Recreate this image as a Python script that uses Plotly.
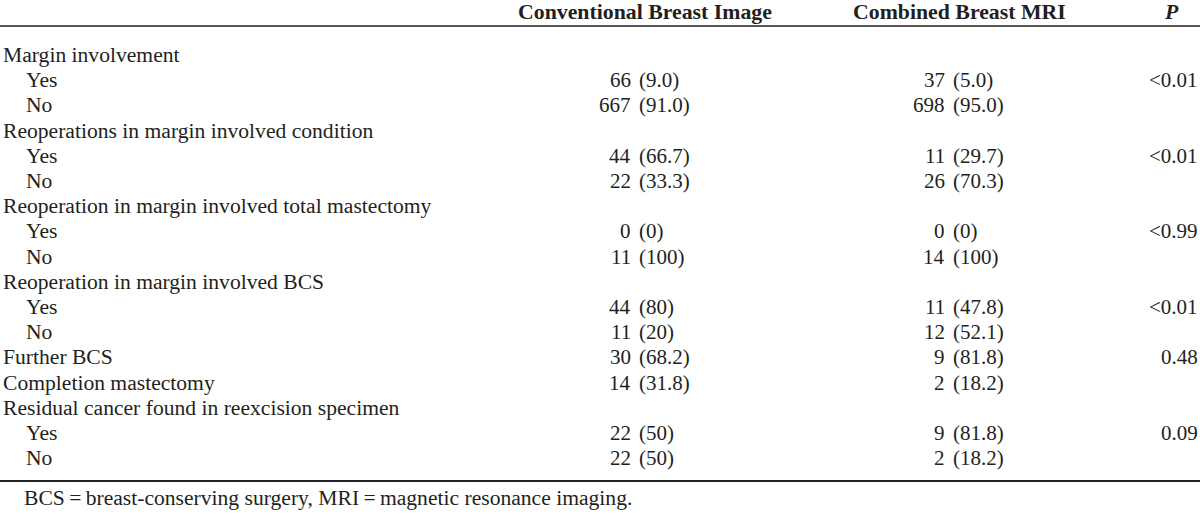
import plotly.graph_objects as go

# ---- data ----
row_labels = [
    "Margin involvement", "Yes", "No",
    "Reoperations in margin involved condition", "Yes", "No",
    "Reoperation in margin involved total mastectomy", "Yes", "No",
    "Reoperation in margin involved BCS", "Yes", "No",
    "Further BCS", "Completion mastectomy",
    "Residual cancer found in reexcision specimen", "Yes", "No",
]
row_indent = [0, 1, 1, 0, 1, 1, 0, 1, 1, 0, 1, 1, 0, 0, 0, 1, 1]
conv_n = ["", "66", "667", "", "44", "22", "", "0", "11", "", "44", "11", "30", "14", "", "22", "22"]
conv_pct = ["", "(9.0)", "(91.0)", "", "(66.7)", "(33.3)", "", "(0)", "(100)", "", "(80)", "(20)", "(68.2)", "(31.8)", "", "(50)", "(50)"]
mri_n = ["", "37", "698", "", "11", "26", "", "0", "14", "", "11", "12", "9", "2", "", "9", "2"]
mri_pct = ["", "(5.0)", "(95.0)", "", "(29.7)", "(70.3)", "", "(0)", "(100)", "", "(47.8)", "(52.1)", "(81.8)", "(18.2)", "", "(81.8)", "(18.2)"]
p_values = ["", "<0.01", "", "", "<0.01", "", "", "<0.99", "", "", "<0.01", "", "0.48", "", "", "0.09", ""]
headers = ["Conventional Breast Image", "Combined Breast MRI", "<b><i>P</i></b>"]
footnote = "BCS\u2009=\u2009breast-conserving surgery, MRI\u2009=\u2009magnetic resonance imaging."

# ---- layout constants ----
W, H = 1200, 515
FONT = "Liberation Serif, Times New Roman, serif"
COL = "#231f20"
FS = 21
FS_LABEL = 21.6
FS_HEAD = 21.8
y0, dy = 55, 25.2
conv_paren_x, mri_paren_x = 639, 953
p_right_x = 1199.5

fig = go.Figure()
ann = []

def add(text, x, y, xanchor, size=FS, bold=False):
    ann.append(dict(text=f"<b>{text}</b>" if bold else text, x=x, y=y, xref="x", yref="y",
                    xanchor=xanchor, yanchor="middle", showarrow=False,
                    font=dict(family=FONT, size=size, color=COL)))

# headers
add(headers[0], 645, 12, "center", size=FS_HEAD, bold=True)
add(headers[1], 959, 12, "center", size=FS_HEAD, bold=True)
ann.append(dict(text=headers[2], x=1171, y=12, xref="x", yref="y", xanchor="center",
                yanchor="middle", showarrow=False, font=dict(family=FONT, size=FS_HEAD, color=COL)))

for i, lab in enumerate(row_labels):
    y = y0 + i * dy
    add(lab, 23 * row_indent[i] + 0.5, y, "left", size=FS_LABEL)
    if conv_n[i]:
        add(conv_n[i], conv_paren_x - 6, y, "right")
        add(conv_pct[i], conv_paren_x - 2, y, "left")
    if mri_n[i]:
        add(mri_n[i], mri_paren_x - 6, y, "right")
        add(mri_pct[i], mri_paren_x - 2, y, "left")
    if p_values[i]:
        add(p_values[i].replace("<", "&lt;"), p_right_x, y, "right")

add(footnote, 22, 498, "left", size=21.6)

fig.update_layout(
    width=W, height=H,
    margin=dict(l=0, r=0, t=0, b=0),
    paper_bgcolor="white", plot_bgcolor="white",
    xaxis=dict(range=[0, W], visible=False, fixedrange=True),
    yaxis=dict(range=[H, 0], visible=False, fixedrange=True),
    showlegend=False,
    annotations=ann,
    shapes=[
        dict(type="line", xref="x", yref="y", x0=0, x1=W, y0=26, y1=26,
             line=dict(color=COL, width=1.3)),
        dict(type="line", xref="x", yref="y", x0=0, x1=W, y0=481, y1=481,
             line=dict(color=COL, width=1.8)),
    ],
)
fig.write_html("out.html", config={"displayModeBar": False},
               post_script="document.body.style.margin='0';document.body.style.overflow='hidden';")
